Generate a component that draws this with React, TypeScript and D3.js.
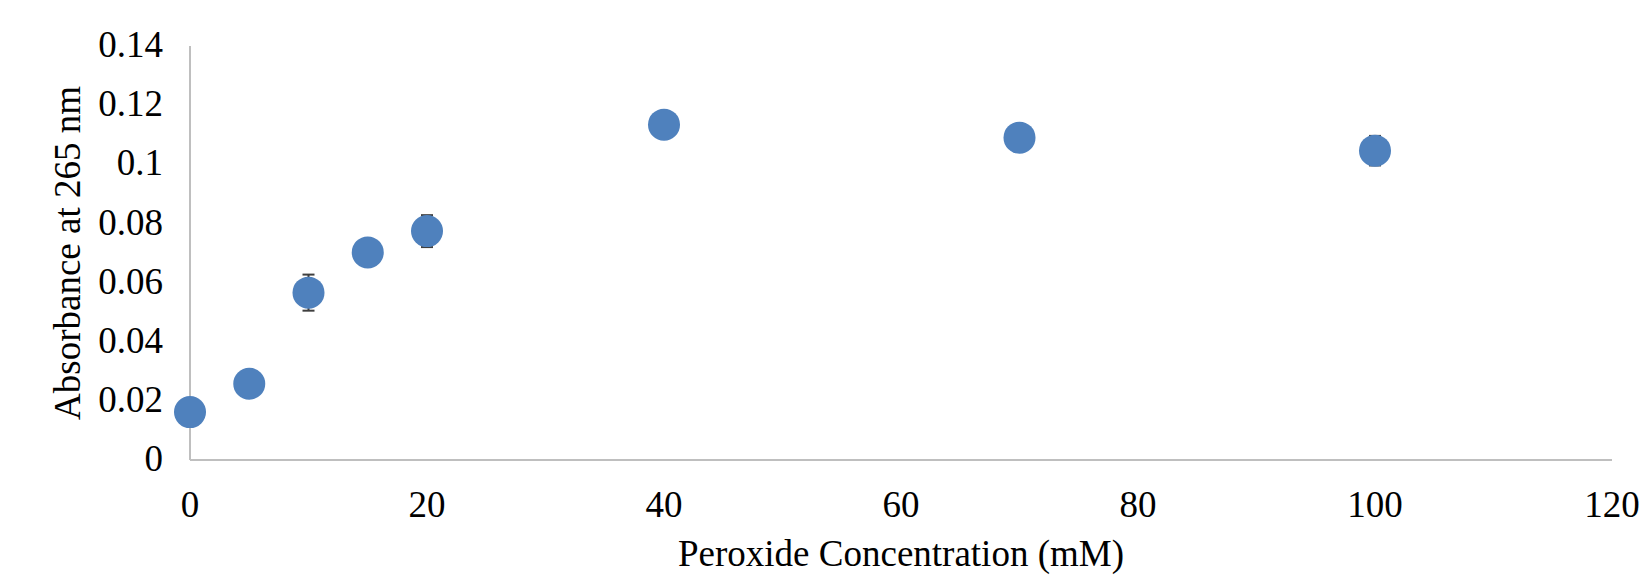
import React, { useEffect, useRef } from "react";
import * as d3 from "d3";

// peroxide concentration (mM) vs absorbance at 265 nm
const concentrations = [0, 5, 10, 15, 20, 40, 70, 100];
const absorbance = [0.0162, 0.0258, 0.0566, 0.0702, 0.0774, 0.1134, 0.1090, 0.1046];
const errors = [0.002, 0.002, 0.0061, 0.003, 0.0054, 0.002, 0.002, 0.005];
const xTicks = [0, 20, 40, 60, 80, 100, 120];
const yTicks = [0, 0.02, 0.04, 0.06, 0.08, 0.1, 0.12, 0.14];

const W = 1645;
const H = 579;
const FONT = "'Liberation Serif', 'Times New Roman', serif";

const App: React.FC = () => {
	const chartRef = useRef<SVGSVGElement | null>(null);

	useEffect(() => {
		if (!chartRef.current) return;
		document.body.style.margin = "0";

		const margin = { top: 46, right: 33, bottom: 119, left: 190 };

		const svg = d3.select(chartRef.current);

		const xScale = d3
			.scaleLinear()
			.domain([0, 120])
			.range([margin.left, W - margin.right]);

		const yScale = d3
			.scaleLinear()
			.domain([0, 0.14])
			.range([H - margin.bottom, margin.top]);

		const data = concentrations.map((c, i) => ({
			x: c,
			y: absorbance[i],
			err: errors[i],
		}));

		// axis lines
		svg.append("line")
			.attr("x1", xScale(0))
			.attr("x2", xScale(0))
			.attr("y1", yScale(0.14))
			.attr("y2", yScale(0))
			.attr("stroke", "#bfbfbf")
			.attr("stroke-width", 2);

		svg.append("line")
			.attr("x1", xScale(0))
			.attr("x2", xScale(120))
			.attr("y1", yScale(0))
			.attr("y2", yScale(0))
			.attr("stroke", "#bfbfbf")
			.attr("stroke-width", 2);

		// tick labels
		svg.selectAll(".ytick")
			.data(yTicks)
			.enter()
			.append("text")
			.attr("class", "ytick")
			.attr("x", margin.left - 27)
			.attr("y", (d) => yScale(d))
			.attr("dy", "0.3em")
			.attr("text-anchor", "end")
			.attr("font-family", FONT)
			.attr("font-size", 37)
			.attr("fill", "#000")
			.text((d) => String(d));

		svg.selectAll(".xtick")
			.data(xTicks)
			.enter()
			.append("text")
			.attr("class", "xtick")
			.attr("x", (d) => xScale(d))
			.attr("y", yScale(0) + 57)
			.attr("text-anchor", "middle")
			.attr("font-family", FONT)
			.attr("font-size", 37)
			.attr("fill", "#000")
			.text((d) => String(d));

		// error bars
		const eb = svg.append("g").attr("stroke", "#3f3f3f").attr("stroke-width", 2);
		data.forEach((d) => {
			const cx = xScale(d.x);
			const y1 = yScale(d.y - d.err);
			const y2 = yScale(d.y + d.err);
			eb.append("line").attr("x1", cx).attr("x2", cx).attr("y1", y1).attr("y2", y2);
			eb.append("line").attr("x1", cx - 6).attr("x2", cx + 6).attr("y1", y1).attr("y2", y1);
			eb.append("line").attr("x1", cx - 6).attr("x2", cx + 6).attr("y1", y2).attr("y2", y2);
		});

		// markers
		svg.selectAll(".pt")
			.data(data)
			.enter()
			.append("circle")
			.attr("class", "pt")
			.attr("cx", (d) => xScale(d.x))
			.attr("cy", (d) => yScale(d.y))
			.attr("r", 16)
			.attr("fill", "#4f81bd");

		// axis titles
		svg.append("text")
			.attr("transform", `translate(80, ${(yScale(0) + yScale(0.14)) / 2}) rotate(-90)`)
			.attr("text-anchor", "middle")
			.attr("font-family", FONT)
			.attr("font-size", 37)
			.attr("fill", "#000")
			.text("Absorbance at 265 nm");

		svg.append("text")
			.attr("x", (xScale(0) + xScale(120)) / 2)
			.attr("y", 566)
			.attr("text-anchor", "middle")
			.attr("font-family", FONT)
			.attr("font-size", 37)
			.attr("fill", "#000")
			.text("Peroxide Concentration (mM)");

		return () => {
			svg.selectAll("*").remove();
		};
	}, []);

	return (
		<svg
			ref={chartRef}
			width={W}
			height={H}
			style={{ display: "block", background: "#fff" }}
		/>
	);
};

export default App;
